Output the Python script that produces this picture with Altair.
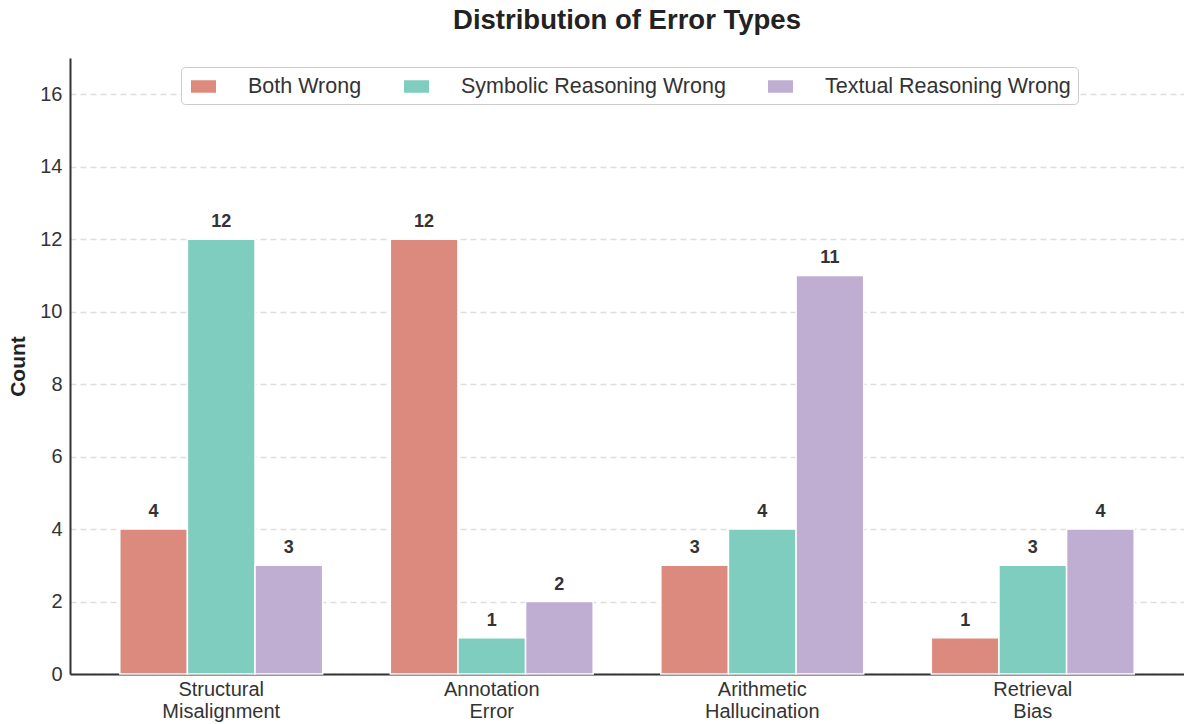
import altair as alt
import pandas as pd

categories = ["Structural Misalignment", "Annotation Error", "Arithmetic Hallucination", "Retrieval Bias"]
series = ["Both Wrong", "Symbolic Reasoning Wrong", "Textual Reasoning Wrong"]
both_wrong = [4, 12, 3, 1]
symbolic_wrong = [12, 1, 4, 3]
textual_wrong = [3, 2, 11, 4]
colors = ["#DD8A7E", "#7FCDBE", "#C0AED2"]

rows = []
for vals, s in zip([both_wrong, symbolic_wrong, textual_wrong], series):
    for c, v in zip(categories, vals):
        rows.append({"Category": c, "Type": s, "Count": v})
df = pd.DataFrame(rows)

FONT = "Liberation Sans"

x = alt.X("Category:N", sort=categories, title=None,
          scale=alt.Scale(paddingInner=0.25, paddingOuter=0.184),
          axis=alt.Axis(labelAngle=0, labelExpr="split(datum.label, ' ')",
                        labelFontSize=20, labelColor="#333333", labelPadding=5,
                        labelLineHeight=22, ticks=False, domainColor="#333333",
                        domainWidth=2, grid=False, labelFont=FONT))
y = alt.Y("Count:Q", title="Count", scale=alt.Scale(domain=[0, 17], nice=False),
          axis=alt.Axis(values=list(range(0, 17, 2)), labelFontSize=20, labelColor="#333333",
                        labelPadding=8, ticks=False, domainColor="#333333", domainWidth=2,
                        gridDash=[6, 4], gridColor="#dedede", gridWidth=1.3,
                        titleFontSize=21, titleFontWeight="bold", titleColor="#222222",
                        titlePadding=11, labelFont=FONT, titleFont=FONT))
xoff = alt.XOffset("Type:N", sort=series)
color = alt.Color("Type:N", sort=series, title=None,
                  scale=alt.Scale(domain=series, range=colors),
                  legend=alt.Legend(orient="none", legendX=111, legendY=9, direction="horizontal",
                                    symbolType="M-1,-0.5H1V0.5H-1Z", symbolSize=625,
                                    symbolStrokeWidth=0, symbolOffset=3,
                                    labelFontSize=21.5, labelColor="#333333",
                                    labelFont=FONT, labelOffset=32, columnPadding=39,
                                    padding=7, strokeColor="#cccccc", fillColor="white",
                                    cornerRadius=4, labelLimit=400))

bars = alt.Chart(df).mark_bar(stroke="white", strokeWidth=1.5).encode(
    x=x, y=y, xOffset=xoff, color=color)
labels = alt.Chart(df).mark_text(baseline="bottom", dy=-8, fontSize=18, fontWeight="bold",
                                 color="#333333", font=FONT).encode(
    x=x, y=y, xOffset=xoff, text="Count:Q")

chart = alt.layer(bars, labels).properties(
    width=1114, height=616,
    title=alt.TitleParams("Distribution of Error Types", fontSize=27.5, fontWeight="bold",
                          color="#222222", font=FONT, anchor="middle", offset=24),
    autosize=alt.AutoSizeParams(type="none"),
    padding={"left": 62, "top": 50, "right": 0, "bottom": 60},
    view=alt.ViewBackground(stroke="transparent", strokeWidth=0),
).configure_view(stroke="transparent", strokeWidth=0).configure(background="white")

chart.save("out.html", embed_options={"renderer": "svg", "actions": False})
